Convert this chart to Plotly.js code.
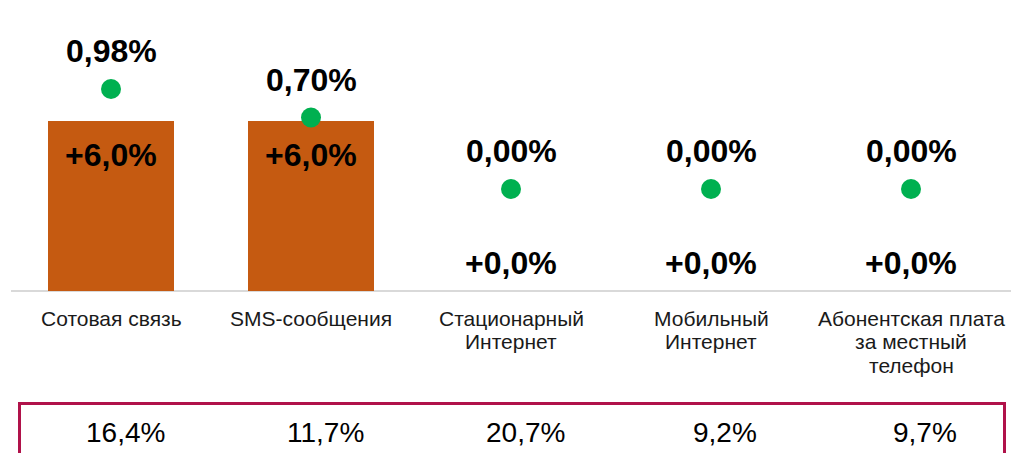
<!DOCTYPE html>
<html>
<head>
<meta charset="utf-8">
<script src="https://cdn.plot.ly/plotly-3.0.1.min.js"></script>
<style>html,body{margin:0;padding:0;background:#fff;}#chart{width:1011px;height:453px;}</style>
</head>
<body>
<div id="chart"></div>
<script>
var categories = ["Сотовая связь", "SMS-сообщения", "Стационарный<br>Интернет", "Мобильный<br>Интернет", "Абонентская плата<br>за местный<br>телефон"];
var barValues = [6.0, 6.0, 0.0, 0.0, 0.0];
var dotValues = [0.98, 0.70, 0.00, 0.00, 0.00];
var tableValues = [16.4, 11.7, 20.7, 9.2, 9.7];

function fmt(v, d) { return v.toFixed(d).replace('.', ','); }

var xs = categories.map(function (c, i) { return i; });

var traces = [
  {
    type: 'bar', x: xs, y: barValues, width: 0.63,
    marker: { color: '#C55A11' }, hoverinfo: 'skip'
  },
  {
    type: 'scatter', mode: 'markers', x: xs, y: dotValues, yaxis: 'y2',
    marker: { color: '#00B050', size: 20 }, hoverinfo: 'skip'
  }
];

var PLOT_H = 261;
var ann = [];
var FAM = 'Liberation Sans, Arial, sans-serif';
var boldFont = { family: FAM, size: 32, color: '#000' };
for (var i = 0; i < categories.length; i++) {
  ann.push({
    x: i, y: dotValues[i], xref: 'x', yref: 'y2', yanchor: 'middle',
    yshift: 38, showarrow: false, text: '<b>' + fmt(dotValues[i], 2) + '%</b>', font: boldFont
  });
  ann.push({
    x: i, y: barValues[i], xref: 'x', yref: 'y', yanchor: 'middle',
    yshift: barValues[i] > 0 ? -34 : 28, showarrow: false,
    text: '<b>' + (barValues[i] >= 0 ? '+' : '') + fmt(barValues[i], 1) + '%</b>', font: boldFont
  });
  ann.push({
    x: i, y: -(432 - 291) / PLOT_H, xref: 'x', yref: 'paper', yanchor: 'middle', xshift: 14,
    showarrow: false, text: fmt(tableValues[i], 1) + '%',
    font: { family: FAM, size: 28, color: '#000' }
  });
  var lines = categories[i].split('<br>');
  for (var j = 0; j < lines.length; j++) {
    ann.push({
      x: i, y: -(318 - 291 + 23.5 * j) / PLOT_H, xref: 'x', yref: 'paper', yanchor: 'middle',
      showarrow: false, text: lines[j],
      font: { family: FAM, size: 21, color: '#1a1a1a' }
    });
  }
}

var layout = {
  width: 1011, height: 453,
  margin: { l: 11, r: 0, t: 30, b: 162 },
  paper_bgcolor: '#fff', plot_bgcolor: '#fff',
  showlegend: false,
  xaxis: {
    range: [-0.5, 4.5], showticklabels: false,
    showgrid: false, zeroline: false, showline: false, ticks: ''
  },
  yaxis: {
    range: [0, 9.21], showgrid: false, zeroline: true, zerolinecolor: '#D9D9D9', zerolinewidth: 2,
    showticklabels: false, showline: false, ticks: ''
  },
  yaxis2: {
    range: [-1.0, 1.558], overlaying: 'y', side: 'right', showgrid: false, zeroline: false,
    showticklabels: false, showline: false, ticks: ''
  },
  annotations: ann,
  shapes: [
    { type: 'rect', xref: 'paper', yref: 'paper', x0: 0.0085, x1: 0.9935,
      y0: -(403.5 - 291) / PLOT_H, y1: -0.7,
      line: { color: '#B0124A', width: 3 }, fillcolor: 'rgba(0,0,0,0)' }
  ]
};

Plotly.newPlot('chart', traces, layout, { displayModeBar: false, staticPlot: true });
</script>
</body>
</html>
